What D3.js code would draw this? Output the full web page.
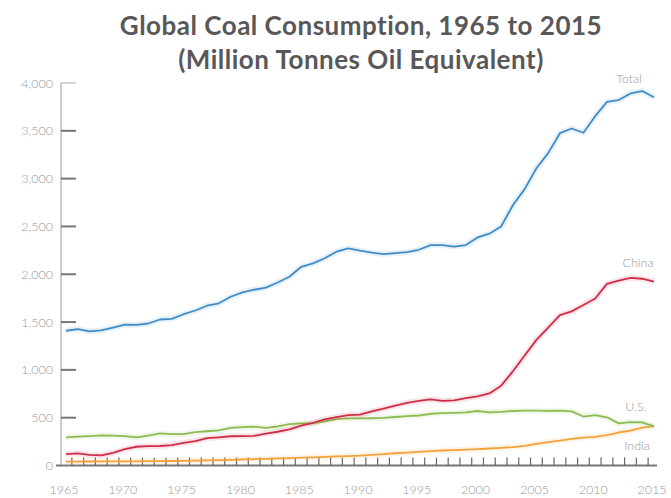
<!DOCTYPE html>
<meta charset="utf-8">
<head>
  <title>Global Coal Consumption</title>
  <script src="https://d3js.org/d3.v7.min.js"></script>
  <style>
    body { margin: 0; background: #fff; }
    text { font-family: Lato, "Open Sans", sans-serif; }
  </style>
</head>
<body>
<div id="chart"></div>
<script>

var years = d3.range(1965, 2016);

var total = [1409, 1427, 1403, 1413, 1443, 1473, 1471, 1485, 1527, 1534,
  1582, 1621, 1671, 1696, 1765, 1810, 1838, 1860, 1914, 1974,
  2078, 2114, 2167, 2236, 2271, 2246, 2226, 2211, 2221, 2231,
  2256, 2305, 2305, 2290, 2305, 2385, 2424, 2499, 2722, 2890,
  3108, 3267, 3475, 3524, 3480, 3653, 3802, 3822, 3891, 3916, 3851];

var china = [120, 127, 111, 106, 133, 172, 196, 202, 204, 214,
  236, 256, 286, 295, 306, 308, 310, 333, 353, 378,
  417, 447, 482, 507, 526, 531, 566, 596, 626, 656,
  675, 692, 676, 682, 705, 724, 754, 835, 985, 1150,
  1314, 1443, 1572, 1612, 1678, 1747, 1899, 1934, 1963, 1953, 1924];

var us = [294, 303, 308, 315, 313, 308, 294, 313, 336, 328,
  328, 348, 358, 368, 393, 401, 406, 393, 408, 432,
  441, 441, 462, 484, 492, 493, 494, 497, 507, 517,
  523, 541, 548, 551, 556, 570, 556, 561, 570, 573,
  573, 571, 573, 566, 512, 527, 504, 441, 454, 450, 410];

var india = [40, 41, 42, 43, 44, 44, 44, 45, 46, 47,
  48, 51, 54, 56, 59, 63, 66, 70, 74, 78,
  82, 86, 90, 95, 99, 103, 112, 120, 128, 135,
  142, 150, 157, 160, 165, 172, 178, 185, 193, 205,
  225, 245, 260, 278, 292, 300, 318, 345, 365, 395, 412];

var seriesNames = ["India", "U.S.", "China", "Total"];
var seriesColors = ["#f2a23a", "#8dbb4f", "#cf2d47", "#3f8dc8"];
var seriesValues = [india, us, china, total];

var yTicks = [0, 500, 1000, 1500, 2000, 2500, 3000, 3500, 4000];
var xLabels = [1965, 1970, 1975, 1980, 1985, 1990, 1995, 2000, 2005, 2010, 2015];

var width = 671, height = 498;

var svg = d3.select("#chart")
  .append("svg")
    .attr("width", width)
    .attr("height", height);

var x = d3.scaleLinear()
  .domain([1965, 2015])
  .range([66, 654]);

var y = d3.scaleLinear()
  .domain([0, 4000])
  .range([465.5, 83]);

// title
svg.append("text")
  .attr("x", 361).attr("y", 35)
  .attr("text-anchor", "middle")
  .attr("font-size", 26).attr("font-weight", 700)
  .attr("letter-spacing", 0.5)
  .attr("fill", "#585858")
  .text("Global Coal Consumption, 1965 to 2015");
svg.append("text")
  .attr("x", 361).attr("y", 69)
  .attr("text-anchor", "middle")
  .attr("font-size", 26).attr("font-weight", 700)
  .attr("letter-spacing", 0.5)
  .attr("fill", "#585858")
  .text("(Million Tonnes Oil Equivalent)");

// y axis
svg.append("line")
  .attr("x1", 61).attr("x2", 61)
  .attr("y1", y(4000)).attr("y2", y(0))
  .attr("stroke", "#aaa").attr("stroke-width", 1.2);

svg.selectAll(".ytick")
  .data(yTicks.filter(function(d) { return d > 0; }))
  .enter().append("line")
    .attr("class", "ytick")
    .attr("x1", 61).attr("x2", 76)
    .attr("y1", function(d) { return y(d); })
    .attr("y2", function(d) { return y(d); })
    .attr("stroke", function(d) { return d == 4000 ? "#aaa" : "#777"; })
    .attr("stroke-width", function(d) { return d == 4000 ? 1 : 2; });

svg.selectAll(".ylabel")
  .data(yTicks)
  .enter().append("text")
    .attr("class", "ylabel")
    .attr("x", 53)
    .attr("y", function(d) { return y(d) + 4.5; })
    .attr("text-anchor", "end")
    .attr("font-size", 12.5).attr("font-weight", 300)
    .attr("fill", "#999")
    .text(function(d) { return d3.format(",")(d); });

// x axis
svg.append("line")
  .attr("x1", 56).attr("x2", 657)
  .attr("y1", y(0)).attr("y2", y(0))
  .attr("stroke", "#777").attr("stroke-width", 2);

svg.selectAll(".xtick")
  .data(years.slice(0, -1))
  .enter().append("line")
    .attr("class", "xtick")
    .attr("x1", function(d) { return x(d + 0.5); })
    .attr("x2", function(d) { return x(d + 0.5); })
    .attr("y1", y(0)).attr("y2", y(0) - 8)
    .attr("stroke", "#666").attr("stroke-width", 1.2);

svg.selectAll(".xlabel")
  .data(xLabels)
  .enter().append("text")
    .attr("class", "xlabel")
    .attr("x", function(d) { return x(d) - 2; })
    .attr("y", 494)
    .attr("text-anchor", "middle")
    .attr("font-size", 12.5).attr("font-weight", 300)
    .attr("fill", "#999")
    .text(function(d) { return d; });

// lines
var line = d3.line()
  .x(function(d, i) { return x(years[i]); })
  .y(function(d) { return y(d); });

seriesValues.forEach(function(vals, k) {
  svg.append("path")
    .attr("d", line(vals))
    .attr("fill", "none")
    .attr("stroke", seriesColors[k])
    .attr("stroke-opacity", 0.12)
    .attr("stroke-width", 6);
  svg.append("path")
    .attr("d", line(vals))
    .attr("fill", "none")
    .attr("stroke", seriesColors[k])
    .attr("stroke-width", 1.8)
    .attr("stroke-linejoin", "round");
});

// end labels
var labelPos = [[637, 450], [636, 411], [638, 267], [629, 83]];
seriesNames.forEach(function(name, k) {
  svg.append("text")
    .attr("x", labelPos[k][0]).attr("y", labelPos[k][1])
    .attr("text-anchor", "middle")
    .attr("font-size", 12.5).attr("font-weight", 300)
    .attr("fill", "#999")
    .text(name);
});

</script>
</body>
